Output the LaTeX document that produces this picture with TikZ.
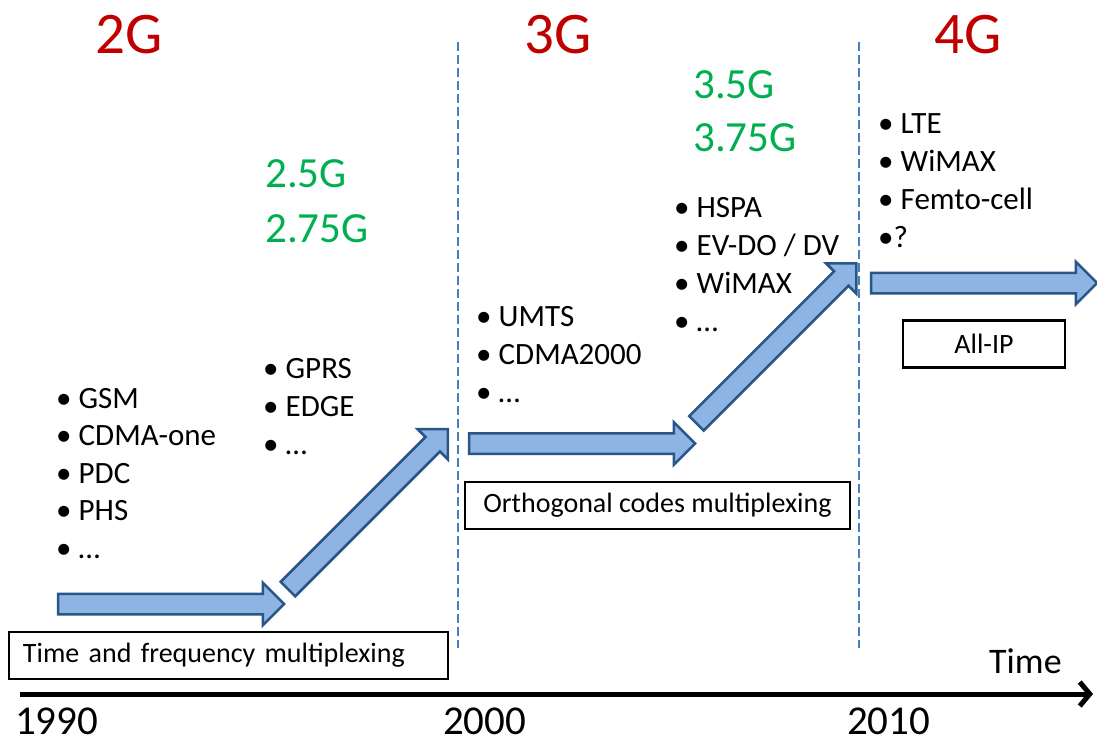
\documentclass[tikz,border=0pt]{standalone}
\usepackage{fontspec}
\setmainfont{Carlito}
\usetikzlibrary{shapes.arrows,arrows.meta}
\definecolor{genred}{HTML}{C00000}
\definecolor{evogreen}{HTML}{00B050}
\definecolor{arrowfill}{HTML}{8DB4E3}
\definecolor{arrowline}{HTML}{2A5587}
\definecolor{eraline}{HTML}{4A7EBB}
\newcommand{\itembullet}{\makebox[22.5pt][l]{\textbullet}}

\begin{document}
\begin{tikzpicture}[x=1pt, y=-1pt,
  gen/.style={anchor=base west, inner sep=0pt, text=genred, font=\fontsize{59}{60}\selectfont},
  evo/.style={anchor=base west, inner sep=0pt, text=evogreen, font=\fontsize{43}{50}\selectfont},
  item/.style={anchor=base west, inner sep=0pt, font=\fontsize{31}{37}\selectfont},
  year/.style={anchor=base west, inner sep=0pt, font=\fontsize{41}{44}\selectfont},
  tech/.style={draw, line width=2.5pt, inner sep=0pt, minimum height=47pt, font=\fontsize{28}{30}\selectfont},
  leap/.style={single arrow, draw=arrowline, fill=arrowfill, line width=2.5pt, inner xsep=0pt, inner ysep=9pt, single arrow head extend=11pt, minimum height=226pt},
  era/.style={eraline, line width=1.5pt, dash pattern=on 9pt off 4pt}
]

  \useasboundingbox (0,0) rectangle (1097,744);

  % Generations
  \node[gen] (g2) at (95,53)  {2G};
  \node[gen] (g3) at (524,53) {3G};
  \node[gen] (g4) at (934,53) {4G};

  \node[evo] (e25)  at (265,187) {2.5G};
  \node[evo] (e275) at (265,242) {2.75G};
  \node[evo] (e35)  at (693,98)  {3.5G};
  \node[evo] (e375) at (693,151) {3.75G};

  % Era borders
  \draw[era] (458,42) -- (458,648);
  \draw[era] (859,42) -- (859,648);

  % Technologies
  \foreach \t [count=\i] in {GSM, CDMA-one, PDC, PHS, …}
    \node[item] (l2-\i) at (56,{408+37.5*(\i-1)}) {\itembullet\t};
  \foreach \t [count=\i] in {GPRS, EDGE, …}
    \node[item] (l25-\i) at (263,{378+38*(\i-1)}) {\itembullet\t};
  \foreach \t [count=\i] in {UMTS, CDMA2000, …}
    \node[item] (l3-\i) at (476,{326+38.3*(\i-1)}) {\itembullet\t};
  \foreach \t [count=\i] in {HSPA, EV-DO / DV, WiMAX, …}
    \node[item] (l35-\i) at (674,{217+38.3*(\i-1)}) {\itembullet\t};
  \foreach \t [count=\i] in {LTE, WiMAX, Femto-cell}
    \node[item] (l4-\i) at (878,{133+38*(\i-1)}) {\itembullet\t};
  \node[item] (l4-4) at (878,247) {\textbullet?};

  % Multiplexing
  \node[tech, minimum width=439pt, text width=411pt, align=left] (tf) at (228.5,655.5) {Time and frequency multiplexing};
  \node[tech, minimum width=385pt] (oc) at (657.5,505.5) {Orthogonal codes multiplexing};
  \node[tech, minimum width=162pt] (ip) at (984,344) {All-IP};

  % Steps
  \node[leap] (a1) at (166,604) {};
  \node[leap, rotate=45] (a2) at (364.25,512.75) {};
  \node[leap] (a3) at (577,443.5) {};
  \node[leap, rotate=45] (a4) at (772.75,347) {};
  \node[leap] (a5) at (979,283) {};

  % Time axis
  \coordinate (t0) at (20,694);
  \coordinate (t1) at (1093,694);
  \draw[line width=5pt, -{Straight Barb[length=10pt, width=24pt]}] (t0) -- (t1);
  \node[year] (y1990) at (15,734)  {1990};
  \node[year] (y2000) at (443,734) {2000};
  \node[year] (y2010) at (847,734) {2010};
  \node[anchor=base west, inner sep=0pt, font=\fontsize{36}{40}\selectfont] (time) at (989,673) {Time};

\end{tikzpicture}
\end{document}
